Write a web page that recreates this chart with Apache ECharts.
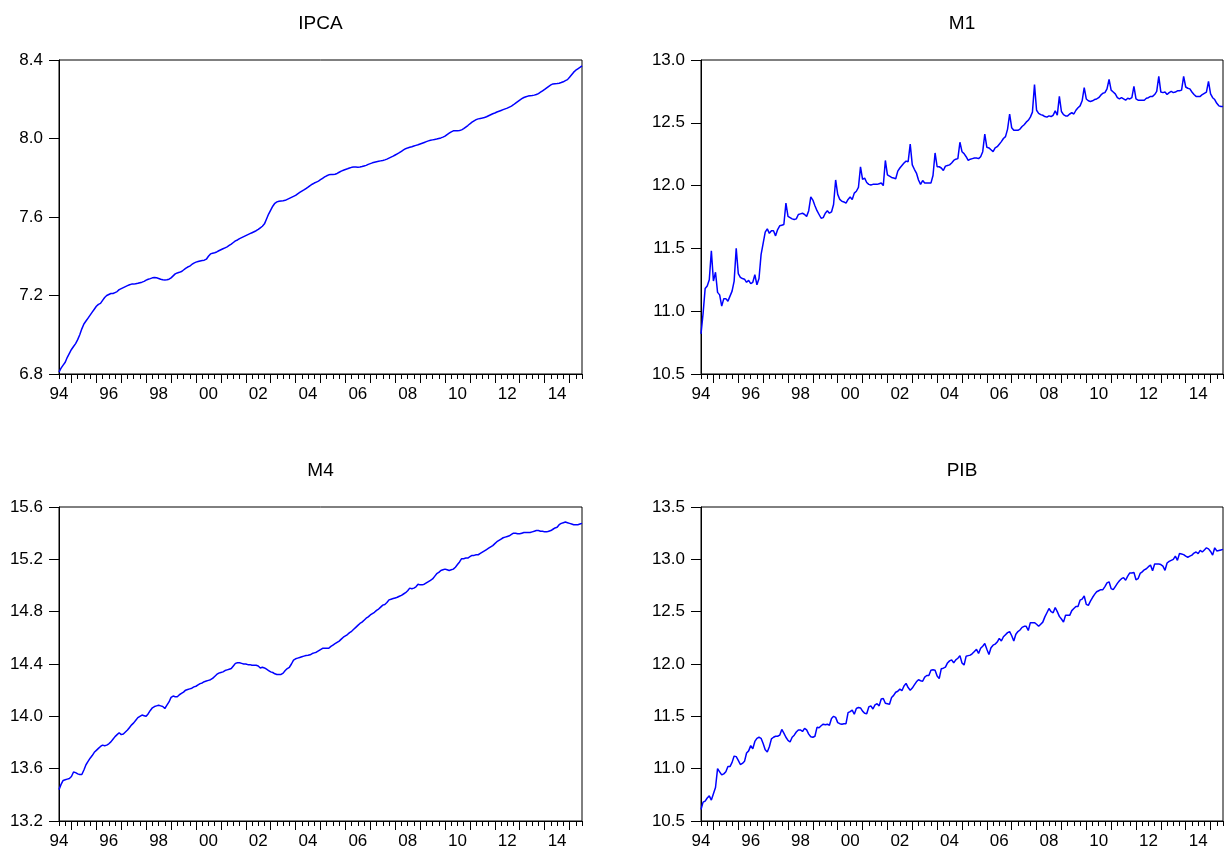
<!DOCTYPE html>
<html>
<head>
<meta charset="utf-8">
<title>IPCA, M1, M4, PIB</title>
<script src="https://cdn.jsdelivr.net/npm/echarts@6/dist/echarts.min.js"></script>
<style>
    html, body { margin: 0; padding: 0; background: #fff; }
    #chart { width: 1224px; height: 852px; }
</style>
</head>
<body>
<div id="chart"></div>
<script>
// monthly observations, 1994M07 .. 2015M07 (one row per year)
var ipca = [
    6.81, 6.83, 6.845, 6.86, 6.885, 6.905,
    6.925, 6.94, 6.955, 6.975, 7.00, 7.03, 7.055, 7.07, 7.085, 7.10, 7.115, 7.13,
    7.145, 7.155, 7.16, 7.175, 7.19, 7.20, 7.205, 7.21, 7.21, 7.215, 7.22, 7.23,
    7.235, 7.24, 7.245, 7.25, 7.255, 7.258, 7.258, 7.26, 7.262, 7.265, 7.268, 7.272,
    7.278, 7.283, 7.286, 7.29, 7.292, 7.29, 7.287, 7.283, 7.28, 7.279, 7.28, 7.283,
    7.29, 7.30, 7.31, 7.315, 7.318, 7.322, 7.33, 7.338, 7.345, 7.35, 7.358, 7.365,
    7.37, 7.373, 7.376, 7.378, 7.38, 7.385, 7.40, 7.412, 7.415, 7.418, 7.422, 7.428,
    7.433, 7.438, 7.443, 7.448, 7.455, 7.462, 7.47, 7.478, 7.483, 7.49, 7.495, 7.50,
    7.505, 7.51, 7.515, 7.52, 7.525, 7.53, 7.537, 7.545, 7.553, 7.565, 7.59, 7.615,
    7.635, 7.655, 7.67, 7.677, 7.68, 7.682, 7.683, 7.685, 7.69, 7.695, 7.70, 7.705,
    7.71, 7.718, 7.725, 7.732, 7.738, 7.745, 7.752, 7.76, 7.767, 7.773, 7.778, 7.783,
    7.79, 7.797, 7.804, 7.81, 7.815, 7.816, 7.817, 7.818, 7.822, 7.828, 7.834, 7.838,
    7.842, 7.846, 7.85, 7.853, 7.855, 7.855, 7.854, 7.855, 7.857, 7.86, 7.863, 7.868,
    7.872, 7.876, 7.879, 7.882, 7.884, 7.886, 7.888, 7.891, 7.895, 7.90, 7.905, 7.91,
    7.916, 7.922, 7.928, 7.935, 7.942, 7.948, 7.952, 7.955, 7.958, 7.962, 7.965, 7.968,
    7.972, 7.976, 7.98, 7.984, 7.988, 7.991, 7.993, 7.995, 7.997, 8.00, 8.003, 8.007,
    8.012, 8.02, 8.027, 8.034, 8.039, 8.04, 8.04, 8.041, 8.044, 8.05, 8.058, 8.066,
    8.075, 8.083, 8.09, 8.096, 8.10, 8.102, 8.104, 8.107, 8.111, 8.116, 8.121, 8.126,
    8.13, 8.135, 8.139, 8.143, 8.147, 8.151, 8.155, 8.16, 8.165, 8.172, 8.18, 8.188,
    8.196, 8.203, 8.209, 8.213, 8.216, 8.218, 8.219, 8.221, 8.224, 8.229, 8.236, 8.243,
    8.25, 8.258, 8.266, 8.273, 8.278, 8.279, 8.28, 8.282, 8.285, 8.289, 8.295, 8.30,
    8.312, 8.325, 8.338, 8.348, 8.355, 8.362, 8.37
];
var m1 = [
    10.82, 10.98, 11.18, 11.20, 11.25, 11.48,
    11.24, 11.31, 11.15, 11.13, 11.04, 11.10, 11.10, 11.08, 11.12, 11.16, 11.24, 11.50,
    11.30, 11.27, 11.26, 11.255, 11.23, 11.245, 11.22, 11.23, 11.29, 11.21, 11.26, 11.45,
    11.54, 11.63, 11.655, 11.62, 11.64, 11.64, 11.60, 11.65, 11.68, 11.685, 11.69, 11.86,
    11.755, 11.745, 11.735, 11.73, 11.735, 11.77, 11.775, 11.78, 11.77, 11.755, 11.80, 11.91,
    11.885, 11.84, 11.80, 11.77, 11.74, 11.745, 11.78, 11.80, 11.78, 11.79, 11.85, 12.045,
    11.93, 11.89, 11.875, 11.87, 11.86, 11.89, 11.91, 11.89, 11.94, 11.955, 11.985, 12.15,
    12.05, 12.06, 12.025, 12.01, 12.005, 12.01, 12.01, 12.01, 12.015, 12.02, 12.00, 12.20,
    12.085, 12.075, 12.065, 12.06, 12.055, 12.115, 12.14, 12.16, 12.18, 12.195, 12.19, 12.33,
    12.165, 12.13, 12.10, 12.045, 12.01, 12.04, 12.02, 12.02, 12.02, 12.02, 12.08, 12.26,
    12.15, 12.15, 12.14, 12.12, 12.155, 12.16, 12.165, 12.18, 12.20, 12.21, 12.215, 12.345,
    12.27, 12.255, 12.23, 12.20, 12.21, 12.215, 12.22, 12.22, 12.215, 12.23, 12.27, 12.41,
    12.305, 12.30, 12.285, 12.27, 12.30, 12.31, 12.33, 12.35, 12.375, 12.39, 12.45, 12.57,
    12.46, 12.44, 12.44, 12.44, 12.45, 12.47, 12.485, 12.505, 12.52, 12.545, 12.585, 12.805,
    12.60, 12.575, 12.565, 12.56, 12.55, 12.545, 12.555, 12.55, 12.56, 12.595, 12.56, 12.71,
    12.59, 12.565, 12.555, 12.555, 12.57, 12.58, 12.57, 12.60, 12.62, 12.635, 12.675, 12.78,
    12.69, 12.675, 12.67, 12.675, 12.685, 12.69, 12.70, 12.72, 12.735, 12.74, 12.77, 12.845,
    12.76, 12.745, 12.73, 12.70, 12.69, 12.70, 12.69, 12.68, 12.695, 12.69, 12.70, 12.79,
    12.69, 12.68, 12.68, 12.68, 12.68, 12.695, 12.70, 12.71, 12.71, 12.725, 12.75, 12.87,
    12.745, 12.74, 12.745, 12.725, 12.74, 12.75, 12.74, 12.745, 12.755, 12.755, 12.76, 12.87,
    12.785, 12.775, 12.77, 12.745, 12.725, 12.71, 12.71, 12.71, 12.725, 12.735, 12.745, 12.83,
    12.73, 12.70, 12.685, 12.655, 12.635, 12.63, 12.63
];
var m4 = [
    13.44, 13.48, 13.51, 13.515, 13.52, 13.525,
    13.54, 13.575, 13.57, 13.56, 13.555, 13.555, 13.59, 13.63, 13.655, 13.68, 13.70, 13.725,
    13.74, 13.755, 13.77, 13.78, 13.775, 13.78, 13.79, 13.805, 13.825, 13.845, 13.86, 13.875,
    13.86, 13.865, 13.88, 13.895, 13.915, 13.935, 13.95, 13.97, 13.99, 14.00, 14.01, 14.005,
    14.00, 14.02, 14.045, 14.065, 14.075, 14.08, 14.085, 14.08, 14.075, 14.06, 14.085, 14.11,
    14.145, 14.155, 14.15, 14.15, 14.165, 14.175, 14.185, 14.20, 14.205, 14.21, 14.215, 14.225,
    14.23, 14.24, 14.25, 14.255, 14.265, 14.27, 14.275, 14.28, 14.29, 14.305, 14.32, 14.33,
    14.335, 14.34, 14.35, 14.355, 14.36, 14.365, 14.385, 14.405, 14.41, 14.41, 14.405, 14.40,
    14.40, 14.395, 14.395, 14.39, 14.39, 14.39, 14.385, 14.37, 14.375, 14.37, 14.36, 14.35,
    14.34, 14.335, 14.325, 14.32, 14.32, 14.32, 14.33, 14.35, 14.365, 14.375, 14.40, 14.43,
    14.44, 14.445, 14.45, 14.455, 14.46, 14.465, 14.467, 14.47, 14.48, 14.485, 14.49, 14.50,
    14.51, 14.52, 14.52, 14.52, 14.52, 14.535, 14.545, 14.555, 14.565, 14.575, 14.59, 14.605,
    14.615, 14.625, 14.64, 14.65, 14.665, 14.68, 14.695, 14.71, 14.72, 14.735, 14.75, 14.76,
    14.775, 14.785, 14.795, 14.81, 14.82, 14.835, 14.85, 14.855, 14.87, 14.89, 14.895, 14.90,
    14.905, 14.91, 14.918, 14.925, 14.935, 14.945, 14.96, 14.98, 14.975, 14.98, 14.99, 15.01,
    15.005, 15.005, 15.01, 15.02, 15.03, 15.04, 15.05, 15.07, 15.09, 15.10, 15.115, 15.12,
    15.125, 15.12, 15.115, 15.12, 15.125, 15.14, 15.16, 15.18, 15.205, 15.205, 15.21, 15.21,
    15.22, 15.23, 15.23, 15.235, 15.235, 15.245, 15.255, 15.265, 15.275, 15.285, 15.295, 15.305,
    15.32, 15.335, 15.345, 15.355, 15.365, 15.37, 15.375, 15.38, 15.39, 15.40, 15.40, 15.395,
    15.395, 15.40, 15.405, 15.405, 15.405, 15.405, 15.41, 15.415, 15.42, 15.42, 15.415, 15.415,
    15.41, 15.41, 15.415, 15.42, 15.43, 15.44, 15.445, 15.465, 15.475, 15.48, 15.485, 15.48,
    15.475, 15.47, 15.465, 15.465, 15.465, 15.47, 15.475
];
var pib = [
    10.61, 10.68, 10.69, 10.72, 10.74, 10.70,
    10.76, 10.82, 11.00, 10.97, 10.94, 10.95, 10.97, 11.02, 11.02, 11.06, 11.12, 11.115,
    11.08, 11.04, 11.05, 11.07, 11.15, 11.17, 11.22, 11.19, 11.26, 11.29, 11.30, 11.29,
    11.24, 11.18, 11.16, 11.21, 11.285, 11.30, 11.31, 11.31, 11.32, 11.375, 11.34, 11.30,
    11.27, 11.255, 11.30, 11.32, 11.35, 11.37, 11.37, 11.355, 11.385, 11.37, 11.33, 11.305,
    11.30, 11.31, 11.395, 11.39, 11.41, 11.425, 11.42, 11.425, 11.415, 11.48, 11.50, 11.49,
    11.44, 11.43, 11.425, 11.43, 11.43, 11.535, 11.545, 11.56, 11.52, 11.575, 11.585, 11.58,
    11.55, 11.53, 11.525, 11.59, 11.60, 11.57, 11.61, 11.62, 11.60, 11.665, 11.67, 11.625,
    11.62, 11.615, 11.68, 11.70, 11.73, 11.74, 11.76, 11.745, 11.79, 11.815, 11.775, 11.75,
    11.77, 11.80, 11.83, 11.85, 11.84, 11.835, 11.875, 11.89, 11.89, 11.94, 11.945, 11.94,
    11.885, 11.86, 11.955, 11.96, 11.97, 12.01, 12.03, 12.04, 12.01, 12.04, 12.055, 12.08,
    12.01, 11.99, 12.075, 12.08, 12.085, 12.10, 12.12, 12.14, 12.10, 12.15, 12.17, 12.195,
    12.14, 12.09, 12.155, 12.18, 12.19, 12.21, 12.245, 12.22, 12.26, 12.28, 12.30, 12.31,
    12.27, 12.22, 12.285, 12.31, 12.325, 12.35, 12.36, 12.36, 12.32, 12.395, 12.395, 12.395,
    12.38, 12.36, 12.38, 12.40, 12.45, 12.49, 12.53, 12.50, 12.49, 12.54, 12.50, 12.455,
    12.43, 12.40, 12.465, 12.465, 12.465, 12.51, 12.53, 12.55, 12.55, 12.61, 12.62, 12.65,
    12.57, 12.56, 12.60, 12.635, 12.665, 12.69, 12.70, 12.71, 12.71, 12.74, 12.775, 12.785,
    12.72, 12.71, 12.74, 12.77, 12.795, 12.815, 12.825, 12.80, 12.84, 12.87, 12.87, 12.875,
    12.805, 12.815, 12.865, 12.88, 12.90, 12.91, 12.93, 12.945, 12.89, 12.955, 12.955, 12.955,
    12.95, 12.935, 12.895, 12.965, 12.98, 12.99, 13.00, 13.03, 12.99, 13.055, 13.05, 13.045,
    13.03, 13.02, 13.03, 13.04, 13.06, 13.07, 13.055, 13.085, 13.07, 13.09, 13.11, 13.10,
    13.075, 13.04, 13.11, 13.08, 13.085, 13.09, 13.095
];

var titles = ['IPCA', 'M1', 'M4', 'PIB'];
var yMin = [6.8, 10.5, 13.2, 10.5];
var yMax = [8.4, 13.0, 15.6, 13.5];
var yStep = [0.4, 0.5, 0.4, 0.5];

// month categories, 1994-07 .. 2015-07
var months = [];
for (var y = 1994, m = 7; y < 2015 || m <= 7; ) {
    months.push(y + '-' + (m < 10 ? '0' + m : m));
    m++;
    if (m > 12) { m = 1; y++; }
}

function getChart() {
    var myChart = echarts.init(document.getElementById('chart'));
    var font = '"Liberation Sans", Arial, sans-serif';
    var series = [ipca, m1, m4, pib];
    var boxes = [[59, 60], [701, 60], [59, 507], [701, 507]]; // left, top of each plot
    var option = {
        backgroundColor: '#fff',
        animation: false,
        title: [],
        grid: [],
        xAxis: [],
        yAxis: [],
        series: []
    };
    for (var i = 0; i < 4; i++) {
        var w = i % 2 === 0 ? 523 : 522;
        option.title.push({
            text: titles[i],
            left: boxes[i][0] + w / 2,
            top: boxes[i][1] - 46,
            textAlign: 'center',
            padding: 0,
            textStyle: { fontFamily: font, fontSize: 19, fontWeight: 'normal', color: '#000' }
        });
        option.grid.push({
            left: boxes[i][0], top: boxes[i][1], width: w, height: 314,
            show: true, borderColor: '#000', borderWidth: 1, backgroundColor: '#fff'
        });
        // yearly ticks and labels (label sits mid-year)
        option.xAxis.push({
            type: 'category', gridIndex: i, position: 'bottom',
            data: months, boundaryGap: false,
            axisLine: { lineStyle: { color: '#000', width: 1 } },
            axisTick: {
                length: 9, lineStyle: { color: '#000' },
                interval: function (idx, v) { return v.slice(5) === '01'; }
            },
            axisLabel: {
                color: '#000', fontFamily: font, fontSize: 17, margin: 12,
                interval: function (idx, v) {
                    return v.slice(5) === '07' && parseInt(v.slice(0, 4), 10) % 2 === 0;
                },
                formatter: function (v) { return v.slice(2, 4); }
            },
            splitLine: { show: false }
        });
        // quarterly ticks
        option.xAxis.push({
            type: 'category', gridIndex: i, position: 'bottom',
            data: months, boundaryGap: false,
            axisLine: { show: false },
            axisTick: {
                length: 5, lineStyle: { color: '#000' },
                interval: function (idx, v) {
                    var mm = v.slice(5);
                    return mm === '04' || mm === '07' || mm === '10';
                }
            },
            axisLabel: { show: false },
            splitLine: { show: false }
        });
        option.yAxis.push({
            type: 'value', gridIndex: i,
            min: yMin[i], max: yMax[i], interval: yStep[i],
            axisLine: { show: true, lineStyle: { color: '#000', width: 1 } },
            axisTick: { show: true, length: 10, lineStyle: { color: '#000' } },
            axisLabel: {
                color: '#000', fontFamily: font, fontSize: 17, margin: 16,
                formatter: function (v) { return v.toFixed(1); }
            },
            splitLine: { show: false }
        });
        option.series.push({
            name: titles[i], type: 'line',
            xAxisIndex: i * 2, yAxisIndex: i,
            data: series[i],
            showSymbol: false, symbol: 'none',
            lineStyle: { color: '#0000ff', width: 1.5 },
            silent: true
        });
    }
    myChart.setOption(option);
}
getChart();
</script>
</body>
</html>
